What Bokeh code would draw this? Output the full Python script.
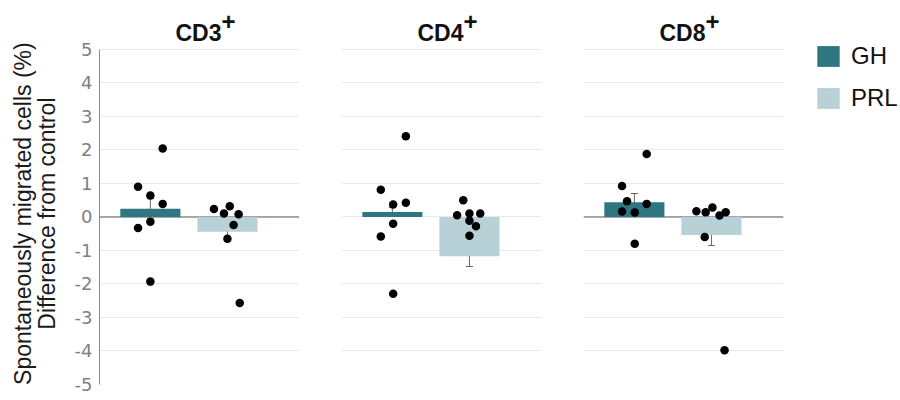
from bokeh.plotting import figure
from bokeh.layouts import row
from bokeh.models import (ColumnDataSource, Range1d, FixedTicker, Span, Whisker,
                          TeeHead, Legend, LegendItem, Label)
from bokeh.embed import file_html
from bokeh.resources import INLINE

groups = ["GH", "PRL"]
panel_titles = ["CD3", "CD4", "CD8"]
title_sup = "+"
y_label_lines = ["Spontaneously migrated cells (%)", "Difference from control"]
y_ticks = [-5, -4, -3, -2, -1, 0, 1, 2, 3, 4, 5]

cd3_mean = [0.245, -0.44]
cd3_err = [0.30, 0.28]
cd3_gh_pts = [2.04, 0.90, 0.64, 0.39, -0.14, -0.33, -1.93]
cd3_gh_jit = [0.16, -0.16, 0.0, 0.16, 0.0, -0.16, 0.0]
cd3_prl_pts = [0.24, 0.10, 0.32, 0.08, -0.24, -0.65, -2.57]
cd3_prl_jit = [-0.175, -0.045, 0.03, 0.145, 0.08, 0.0, 0.16]

cd4_mean = [0.15, -1.17]
cd4_err = [0.13, 0.31]
cd4_gh_pts = [2.41, 0.81, 0.37, 0.42, -0.20, -0.58, -2.29]
cd4_gh_jit = [0.175, -0.15, 0.01, 0.175, 0.01, -0.15, 0.01]
cd4_prl_pts = [0.50, 0.05, 0.10, 0.10, -0.11, -0.28, -0.56]
cd4_prl_jit = [-0.08, -0.16, 0.0, 0.14, 0.0, 0.085, 0.0]

cd8_mean = [0.44, -0.54]
cd8_err = [0.26, 0.31]
cd8_gh_pts = [1.88, 0.92, 0.47, 0.39, 0.16, 0.13, -0.80]
cd8_gh_jit = [0.16, -0.16, -0.095, 0.16, -0.16, 0.005, 0.005]
cd8_prl_pts = [0.17, 0.14, 0.28, 0.14, 0.04, -0.60, -3.98]
cd8_prl_jit = [-0.195, -0.075, 0.013, 0.185, 0.105, -0.087, 0.17]

bar_colors = ["#2e7680", "#b8d1d7"]
X0, X1 = -0.66, 1.935
Y0, Y1 = -5, 6.25   # data range; the top part holds the panel title


def base_fig(width, left=0, right=0):
    p = figure(frame_width=width, frame_height=377,
               y_range=Range1d(Y0, Y1),
               output_backend="svg", toolbar_location=None,
               min_border_left=left, min_border_right=right,
               min_border_top=7, min_border_bottom=12)
    p.outline_line_color = None
    p.background_fill_color = "white"
    p.border_fill_color = "white"
    p.xaxis.visible = False
    p.xgrid.visible = False
    return p


# y-axis title (two lines), in its own narrow strip left of the first panel
pl = base_fig(60)
pl.x_range = Range1d(0, 60)
pl.yaxis.visible = False
pl.ygrid.visible = False
for txt, xpos in zip(y_label_lines, [22, 46]):
    pl.add_layout(Label(x=xpos, y=0.1, text=txt, angle=90, angle_units="deg",
                        text_align="center", text_baseline="middle",
                        text_font="Liberation Sans", text_font_size="23px",
                        text_color="#1a1a1a"))


def make_panel(title, means, errs, gh_pts, gh_jit, prl_pts, prl_jit,
               first=False, last=False, dark_zero=True):
    p = base_fig(200, left=39 if first else 42, right=106 if last else 0)
    p.x_range = Range1d(X0, X1)
    p.yaxis.ticker = FixedTicker(ticks=y_ticks)
    p.ygrid.ticker = FixedTicker(ticks=y_ticks)
    p.ygrid.grid_line_color = "#e9e9e9"
    p.ygrid.grid_line_width = 1
    if first:
        ax = p.yaxis[0]
        ax.bounds = (y_ticks[0], y_ticks[-1])
        ax.axis_line_color = "#8a8a8a"
        ax.major_tick_line_color = None
        ax.minor_tick_line_color = None
        ax.major_tick_out = 0
        ax.major_tick_in = 0
        ax.minor_tick_out = 0
        ax.minor_tick_in = 0
        ax.major_label_text_font = "DejaVu Sans"
        ax.major_label_text_font_size = "18px"
        ax.major_label_text_color = "#808080"
        ax.major_label_standoff = 7
        ax.major_label_overrides = {t: str(t) for t in y_ticks}
    else:
        p.yaxis.visible = False

    xc = (X0 + X1) / 2
    p.add_layout(Label(x=xc, y=y_ticks[-1], text=title, text_align="right",
                       text_baseline="alphabetic", x_offset=22, y_offset=16,
                       text_font="Liberation Sans", text_font_size="23px",
                       text_font_style="bold", text_color="#111111"))
    p.add_layout(Label(x=xc, y=y_ticks[-1], text=title_sup, text_align="left",
                       text_baseline="alphabetic", x_offset=22, y_offset=28,
                       text_font="Liberation Sans", text_font_size="24px",
                       text_font_style="bold", text_color="#111111"))

    src = ColumnDataSource(dict(x=[0, 1], top=means, color=bar_colors, label=groups,
                                upper=[m + e for m, e in zip(means, errs)],
                                lower=[m - e for m, e in zip(means, errs)]))
    if dark_zero:
        p.add_layout(Span(location=0, dimension="width", line_color="#8c8c8c",
                          line_width=1.5, level="underlay"))
    bars = p.vbar(x="x", top="top", bottom=0, width=0.78, fill_color="color",
                  line_color=None, source=src)
    p.add_layout(Whisker(base="x", upper="upper", lower="lower", source=src,
                         line_color="#666666", line_width=1,
                         upper_head=TeeHead(size=7, line_color="#666666", line_width=1),
                         lower_head=TeeHead(size=7, line_color="#666666", line_width=1)))
    px = [0 + j for j in gh_jit] + [1 + j for j in prl_jit]
    py = list(gh_pts) + list(prl_pts)
    p.scatter(x=px, y=py, size=8.5, fill_color="black", line_color=None)
    return p, bars


p1, _ = make_panel(panel_titles[0], cd3_mean, cd3_err, cd3_gh_pts, cd3_gh_jit,
                   cd3_prl_pts, cd3_prl_jit, first=True)
p2, _ = make_panel(panel_titles[1], cd4_mean, cd4_err, cd4_gh_pts, cd4_gh_jit,
                   cd4_prl_pts, cd4_prl_jit, dark_zero=False)
p3, bars3 = make_panel(panel_titles[2], cd8_mean, cd8_err, cd8_gh_pts, cd8_gh_jit,
                       cd8_prl_pts, cd8_prl_jit, last=True)

legend = Legend(items=[LegendItem(label=groups[0], renderers=[bars3], index=0),
                       LegendItem(label=groups[1], renderers=[bars3], index=1)],
                location=(31, 272), orientation="vertical",
                border_line_color=None, background_fill_alpha=0,
                padding=0, margin=0, spacing=14,
                glyph_width=28, glyph_height=26, label_height=26,
                label_standoff=9, label_text_font="Liberation Sans",
                label_text_font_size="24px", label_text_color="#111111")
p3.add_layout(legend, "right")

layout = row(pl, p1, p2, p3)
open("out.html", "w").write(file_html(layout, INLINE))
